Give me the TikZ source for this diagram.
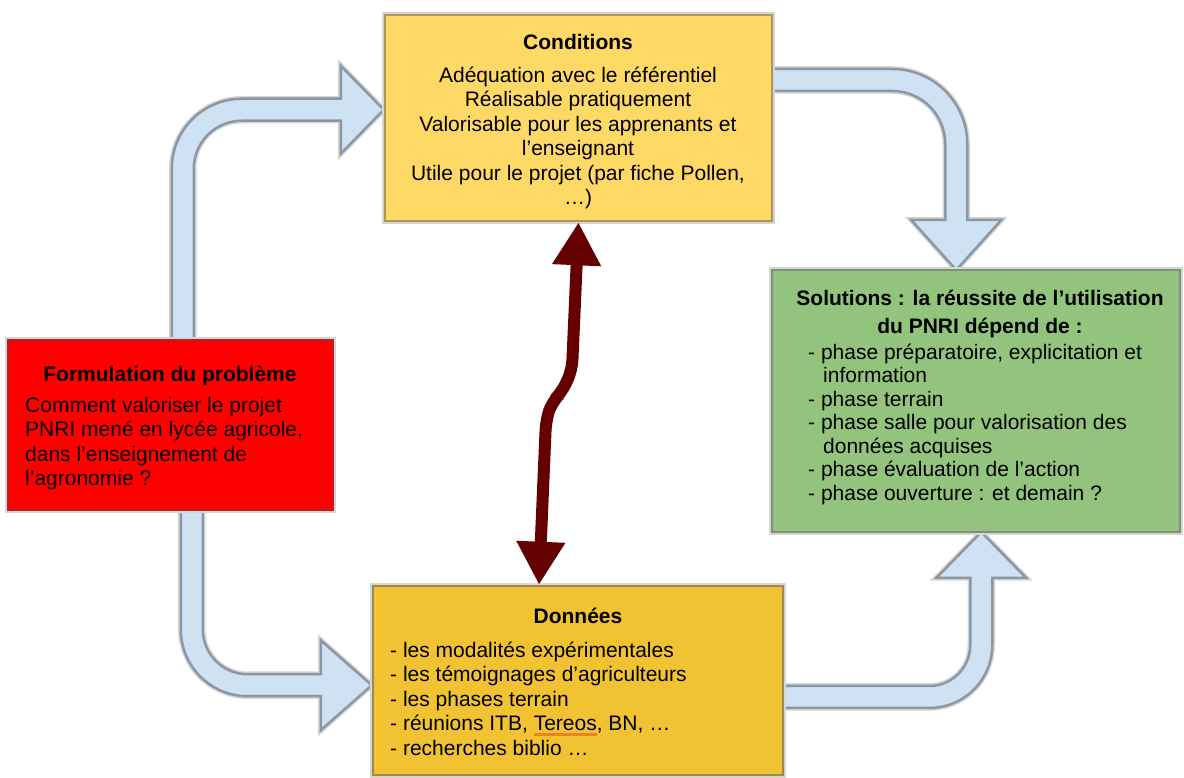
\documentclass[tikz,border=0pt]{standalone}
\usepackage{fontspec}
\setmainfont{Liberation Sans}
\usetikzlibrary{arrows.meta,calc,backgrounds}
\definecolor{condfill}{HTML}{FFD966}
\definecolor{condline}{HTML}{AD9660}
\definecolor{donfill}{HTML}{F1C232}
\definecolor{donline}{HTML}{A08850}
\definecolor{solfill}{HTML}{93C47D}
\definecolor{solline}{HTML}{808F7C}
\definecolor{formfill}{HTML}{FF0000}
\definecolor{formline}{HTML}{B42222}
\definecolor{arrfill}{HTML}{CFE2F3}
\definecolor{arrline}{HTML}{8C97A3}
\definecolor{halo}{HTML}{D6D6D6}
\definecolor{darkred}{HTML}{650000}
\definecolor{squigc}{HTML}{F08020}
\newcommand\fs{\rule{0pt}{16pt}}
\newcommand\squig[1]{\setbox0\hbox{#1}\rlap{\textcolor{squigc}{\rule[-5pt]{\wd0}{2.5pt}}}#1}
\begin{document}
\begin{tikzpicture}[x=1pt,y=1pt,
  box/.style={draw, line width=2.5pt, inner sep=0pt, preaction={draw=halo, line width=6pt}},
  blockarrow/.style={fill=arrfill, draw=arrline, line width=2.5pt, line join=miter, preaction={draw=halo, line width=5.5pt}},
  txt/.style={inner sep=0pt, font=\fontsize{21}{24.5}\selectfont}]
\useasboundingbox (0,0) rectangle (1184,777);
% boxes
\node[box, fill=condfill, draw=condline, minimum width=387pt, minimum height=206pt] (cond) at (578.5,659) {};
\node[box, fill=solfill, draw=solline, minimum width=408pt, minimum height=262pt] (sol) at (976,376) {};
\node[box, fill=formfill, draw=formline, minimum width=325pt, minimum height=170pt] (form) at (170.5,352) {};
\node[box, fill=donfill, draw=donline, minimum width=410pt, minimum height=189pt] (don) at (578,96.5) {};
% block arrows
\begin{scope}[on background layer]
\draw[blockarrow] ($(form.north west)+(165,0)$) -- ++(0,170)
  arc[start angle=180,end angle=90,radius=70pt] -- ++(99,0) -- ++(0,33)
  -- ++(43,-44) -- ++(-43,-44) -- ++(0,33) -- ++(-99,0)
  arc[start angle=90,end angle=180,radius=48pt] -- ++(0,-170) -- cycle;
\draw[blockarrow] ($(cond.east)+(0,49)$) -- ++(119,0)
  arc[start angle=90,end angle=0,radius=75pt] -- ++(0,-76) -- ++(34,0)
  -- ++(-45,-50) -- ++(-45,50) -- ++(34,0) -- ++(0,76)
  arc[start angle=0,end angle=90,radius=53pt] -- ++(-119,0) -- cycle;
\draw[blockarrow] ($(form.south west)+(174,0)$) -- ++(0,-118)
  arc[start angle=180,end angle=270,radius=67pt] -- ++(73,0) -- ++(0,-34)
  -- ++(51,45) -- ++(-51,45) -- ++(0,-34) -- ++(-73,0)
  arc[start angle=270,end angle=180,radius=45pt] -- ++(0,118) -- cycle;
\draw[blockarrow] ($(don.east)+(0,-27.5)$) -- ++(145,0)
  arc[start angle=270,end angle=360,radius=63pt] -- ++(0,67) -- ++(34,0)
  -- ++(-45,46) -- ++(-45,-46) -- ++(34,0) -- ++(0,-67)
  arc[start angle=0,end angle=-90,radius=41pt] -- ++(-145,0) -- cycle;
\end{scope}
% double arrow
\draw[darkred, line width=12pt, {Triangle[width=46pt,length=43pt]}-{Triangle[width=46pt,length=43pt]}, rounded corners=10pt]
  (cond.south) -- (572,407) -- (562,385) -- (552,375) -- (546,357) -- ($(don.north)+(-39,0)$);
% texts
\node[txt, anchor=base] (condt) at (578,727) {\bfseries Conditions};
\node[txt, anchor=north, align=center] (condb) at (578,711) {\fs Adéquation avec le référentiel\\Réalisable pratiquement\\Valorisable pour les apprenants et\\l'enseignant\\Utile pour le projet (par fiche Pollen,\\…)};
\node[txt, anchor=base] (formt) at (170,395) {\bfseries Formulation du problème};
\node[txt, anchor=north west, align=left] (formb) at (25,381) {\fs Comment valoriser le projet\\PNRI mené en lycée agricole,\\dans l'enseignement de\\l'agronomie ?};
\node[txt, anchor=base] (dont) at (578,153) {\bfseries Données};
\node[txt, anchor=north west, align=left] (donb) at (390,136) {\fs - les modalités expérimentales\\- les témoignages d'agriculteurs\\- les phases terrain\\- réunions ITB, \squig{Tereos}, BN, …\\- recherches biblio …};
\node[txt, anchor=north, align=center, font=\fontsize{21}{28}\selectfont\bfseries] (solt) at (980,488) {\fs Solutions : la réussite de l'utilisation\\du PNRI dépend de :};
\node[txt, anchor=north west, align=left, font=\fontsize{21}{23.5}\selectfont] (solb) at (808,434) {\fs - phase préparatoire, explicitation et\\\hspace*{15pt}information\\- phase terrain\\- phase salle pour valorisation des\\\hspace*{15pt}données acquises\\- phase évaluation de l'action\\- phase ouverture : et demain ?};
\end{tikzpicture}
\end{document}
